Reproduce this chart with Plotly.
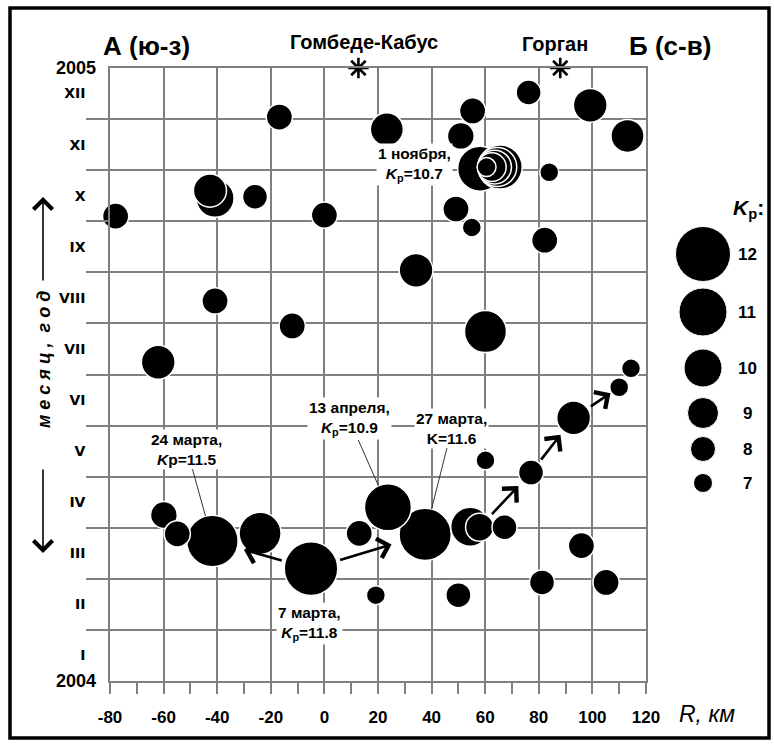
import numpy as np
import plotly.graph_objects as go

# ---------------- data ----------------
# epicentral distance along profile (km), time as month fraction of 2004 (0 = 1 Jan 2004), energy class Kp
R_km = [-16.8, 23.3, -40.8, -42.7, -25.9, -77.9, 0.0, 76.2, 99.2, 113.1,
        55.3, 50.9, 58.1, 65.6, 64.5, 63.5, 62.5, 60.5, 83.9, 49.1,
        55.0, 82.2, 34.2, 60.1, -40.8, -12.0, -62.0, 114.4, 110.0, 93.0,
        77.1, 60.1, -59.9, -54.9, -41.8, -24.0, -5.0, 13.0, 19.2, 23.7,
        37.6, 54.4, 57.9, 67.2, 50.0, 81.2, 95.9, 105.1]
month = [11.04, 10.80, 9.45, 9.60, 9.48, 9.10, 9.12, 11.52, 11.27, 10.67,
         11.16, 10.67, 10.03, 10.06, 10.06, 10.06, 10.06, 10.06, 9.96, 9.24,
         8.88, 8.63, 8.04, 6.84, 7.44, 6.95, 6.24, 6.12, 5.75, 5.15,
         4.08, 4.32, 3.25, 2.88, 2.74, 2.89, 2.20, 2.89, 1.68, 3.40,
         2.87, 3.02, 3.01, 3.01, 1.68, 1.93, 2.65, 1.93]
K = [8.2, 9.3, 10.0, 9.3, 8.0, 8.2, 8.2, 8.0, 9.4, 9.3,
     8.2, 8.3, 10.7, 10.6, 10.1, 9.4, 8.6, 7.0, 7.0, 8.2,
     7.0, 8.2, 9.4, 10.4, 8.2, 8.2, 9.4, 7.0, 7.0, 9.4,
     8.0, 7.0, 8.3, 8.2, 11.5, 10.4, 11.8, 8.2, 7.0, 10.9,
     11.6, 10.1, 8.5, 8.0, 8.0, 8.0, 8.2, 8.2]

legend_K = [12, 11, 10, 9, 8, 7]
legend_diam = [55, 48, 38, 31, 25, 19]

# months
roman = ["I", "II", "III", "IV", "V", "VI", "VII", "VIII", "IX", "X", "XI", "XII"]
years = ["2004", "2005"]

# towns (stars on the top axis)
towns = ["Гомбеде-Кабус", "Горган"]
town_R = [12.7, 88.0]

# named events: bubble index, label text
events = [
    (36, "7 марта,<br><i>K</i><sub>р</sub>=11.8"),
    (34, "24 марта,<br><i>K</i>р=11.5"),
    (39, "13 апреля,<br><i>K</i><sub>р</sub>=10.9"),
    (40, "27 марта,<br>K=11.6"),
    (12, "1 ноября,<br><i>K</i><sub>р</sub>=10.7"),
]
# migration arrows: (from bubble, to bubble)
arrows = [(36, 34), (36, 40), (42, 30), (30, 29), (29, 28)]

# ---------------- layout geometry ----------------
W, H = 774, 745
ML, MR, MT, MB = 110, 10, 68, 64
PW = W - ML - MR
PH = H - MT - MB
X_RIGHT = 646  # right edge of main plot area (px)


def px_x(px):
    return (px - ML) / PW


def px_y(py):
    return (H - MB - py) / PH


kx = np.array([7, 8, 9, 10, 11, 12])
kd = np.array(legend_diam[::-1])


def diam(k):
    return np.interp(k, kx, kd)


GRID = "#808080"
FONT = "Liberation Sans, Arial, sans-serif"

order = np.argsort(-np.array(K), kind="stable")
Rs = np.array(R_km)[order]
Ms = np.array(month)[order]
Ds = diam(np.array(K)[order])

fig = go.Figure()
fig.add_trace(go.Scatter(
    x=Rs, y=Ms, mode="markers", cliponaxis=False, hoverinfo="skip",
    marker=dict(size=Ds, sizemode="diameter", color="black", opacity=1,
                line=dict(color="white", width=1.5)),
    showlegend=False))

fig.add_trace(go.Scatter(
    x=town_R, y=[12, 12], mode="markers", cliponaxis=False, hoverinfo="skip",
    marker=dict(symbol="asterisk-open", size=17, color="black", opacity=1,
                line=dict(color="black", width=2.6)),
    showlegend=False))

# legend circles
legend_y = [254, 312, 368, 413, 449, 483]
fig.add_trace(go.Scatter(
    x=[703] * len(legend_K), y=legend_y, xaxis="x2", yaxis="y2",
    mode="markers", cliponaxis=False, hoverinfo="skip",
    marker=dict(size=diam(np.array(legend_K)), sizemode="diameter", color="black",
                opacity=1, line=dict(color="white", width=1)),
    showlegend=False))

ann = []


def txt(px, py, text, size, xanchor="center", bold=True, **kw):
    return dict(x=px_x(px), y=px_y(py), xref="paper", yref="paper",
                text=("<b>" + text + "</b>") if bold else text,
                xanchor=xanchor, yanchor="middle", showarrow=False,
                font=dict(family=FONT, size=size, color="black"), **kw)


for k, yv in zip(legend_K, legend_y):
    ann.append(dict(x=747, y=yv, xref="x2", yref="y2", text=f"<b>{k}</b>",
                    xanchor="center", yanchor="middle",
                    showarrow=False, font=dict(family=FONT, size=17, color="black")))
ann.append(dict(x=748, y=209, xref="x2", yref="y2", xanchor="center", yanchor="middle",
                text="<b><i>K</i><sub>р</sub>:</b>", showarrow=False,
                font=dict(family=FONT, size=21, color="black")))

# year labels
ann.append(dict(x=px_x(98), y=12, xref="paper", yref="y", text="<b>" + years[1] + "</b>",
                xanchor="right", yanchor="middle", showarrow=False,
                font=dict(family=FONT, size=18, color="black")))
ann.append(dict(x=px_x(98), y=0, xref="paper", yref="y", text="<b>" + years[0] + "</b>",
                xanchor="right", yanchor="middle", showarrow=False,
                font=dict(family=FONT, size=18, color="black")))

# headings
ann.append(txt(146, 46, "А (ю-з)", 26))
ann.append(txt(670, 46, "Б (с-в)", 26))
ann.append(txt(364, 42, towns[0], 20))
ann.append(txt(555, 44, towns[1], 20))

# axis titles
ann.append(txt(677, 714, "<i>R, км</i>", 23, xanchor="left", bold=False))
ann.append(txt(44, 360, "<i>м е с я ц ,\u00a0\u00a0г о д</i>", 18, textangle=-90))
ann.append(dict(x=px_x(43), y=px_y(197), xref="paper", yref="paper", ax=0, ay=85,
                axref="pixel", ayref="pixel", text="", showarrow=True, arrowhead=4,
                arrowsize=2.3, arrowwidth=1.6, arrowcolor="black"))
ann.append(dict(x=px_x(43), y=px_y(553), xref="paper", yref="paper", ax=0, ay=-85,
                axref="pixel", ayref="pixel", text="", showarrow=True, arrowhead=4,
                arrowsize=2.3, arrowwidth=1.6, arrowcolor="black"))

# event labels (text position in data units) with leader lines
label_pos = [(-5.7, 1.13), (-51.3, 4.54), (9.2, 5.13), (47.6, 4.95), (33.8, 10.12)]
leader = [False, True, True, True, False]
for (idx, t), (tx, ty), ld in zip(events, label_pos, leader):
    r = diam(K[idx]) / 2
    if ld:
        ann.append(dict(x=R_km[idx], y=month[idx], xref="x", yref="y",
                        ax=tx, ay=ty, axref="x", ayref="y", text="<b>" + t + "</b>",
                        showarrow=True, arrowhead=0, arrowwidth=1, arrowcolor="#333",
                        standoff=r, bgcolor="white", borderpad=1,
                        font=dict(family=FONT, size=15.5, color="black")))
    else:
        ann.append(dict(x=tx, y=ty, xref="x", yref="y", text="<b>" + t + "</b>",
                        xanchor="center", yanchor="middle",
                        showarrow=False, bgcolor="white", borderpad=1,
                        font=dict(family=FONT, size=15.5, color="black")))

# migration arrows
gaps = [7, 9, 6, 4.5, 1]
for (a, b), g in zip(arrows, gaps):
    ann.append(dict(x=R_km[b], y=month[b], xref="x", yref="y",
                    ax=R_km[a], ay=month[a], axref="x", ayref="y", text="",
                    showarrow=True, arrowhead=4, arrowsize=1.5, arrowwidth=2.6,
                    arrowcolor="black", standoff=diam(K[b]) / 2 + g,
                    startstandoff=diam(K[a]) / 2 + 2))

x_ticks = list(range(-80, 121, 20))
fig.update_layout(
    width=W, height=H,
    margin=dict(l=ML, r=MR, t=MT, b=MB, pad=0, autoexpand=False),
    paper_bgcolor="white", plot_bgcolor="white",
    showlegend=False,
    xaxis=dict(domain=[0, px_x(X_RIGHT)], range=[-80, 120], automargin=False,
               tickmode="array", tickvals=x_ticks, ticktext=[str(v) for v in x_ticks],
               ticks="outside", ticklen=11, tickwidth=1.5, tickcolor=GRID,
               showgrid=True, gridcolor=GRID, gridwidth=1.5,
               showline=True, linecolor=GRID, linewidth=1.5, mirror=True,
               zeroline=False, ticklabelstandoff=9,
               tickfont=dict(family=FONT, size=17, color="black", weight="bold"),
               minor=dict(tickmode="array", tickvals=list(range(-70, 120, 20)),
                          ticks="outside", ticklen=11, tickwidth=1.5, tickcolor=GRID,
                          showgrid=False)),
    yaxis=dict(domain=[0, 1], range=[0, 12], automargin=False,
               tickmode="array", tickvals=[i + 0.5 for i in range(12)], ticktext=roman,
               ticks="", showgrid=False,
               showline=True, linecolor=GRID, linewidth=1.5, mirror=True,
               zeroline=False, ticklabelstandoff=20,
               tickfont=dict(family="DejaVu Sans", size=14, color="black", weight="bold"),
               minor=dict(tickmode="array", tickvals=list(range(1, 12)),
                          ticks="outside", ticklen=22, tickwidth=1.5, tickcolor=GRID,
                          showgrid=True, gridcolor=GRID, gridwidth=1.5)),
    xaxis2=dict(domain=[px_x(X_RIGHT), 1], range=[X_RIGHT, W - MR], visible=False,
                anchor="y2", fixedrange=True, automargin=False),
    yaxis2=dict(domain=[0, 1], range=[H - MB, MT], visible=False, anchor="x2",
                fixedrange=True, automargin=False),
    annotations=ann,
    shapes=[dict(type="rect", xref="paper", yref="paper",
                 x0=px_x(10), x1=px_x(769), y0=px_y(8), y1=px_y(738),
                 line=dict(color="black", width=3.5), layer="above")],
)

fig.write_html("out.html", config={"responsive": False, "displayModeBar": False},
               post_script="document.body.style.margin='0';document.body.style.overflow='hidden';")
